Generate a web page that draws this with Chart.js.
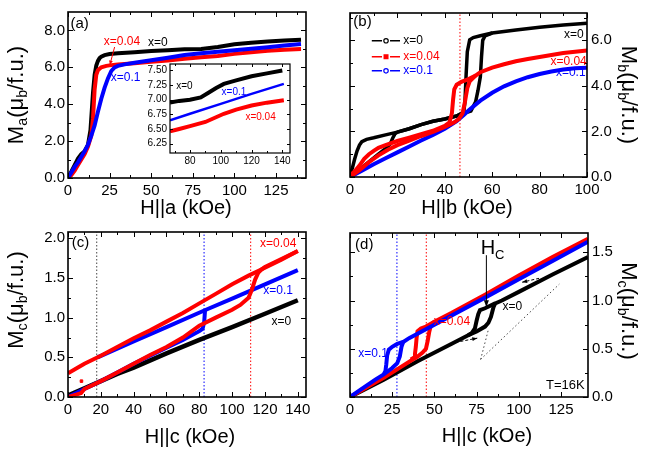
<!DOCTYPE html>
<html><head><meta charset="utf-8">
<script src="https://cdn.jsdelivr.net/npm/chart.js@4.4.0/dist/chart.umd.min.js"></script>
<style>
body{margin:0;background:#fff;width:646px;height:454px;position:relative;overflow:hidden;}
canvas{position:absolute;}
.t{position:absolute;white-space:nowrap;color:#000;font-family:"Liberation Sans",Arial,sans-serif;line-height:1;}
.t sub{font-size:0.65em;vertical-align:-0.3em;}
</style></head>
<body>
<canvas id="ca" width="323" height="227" style="left:0;top:0"></canvas>
<canvas id="cb" width="323" height="227" style="left:323px;top:0"></canvas>
<canvas id="cc" width="323" height="234" style="left:0;top:220px"></canvas>
<canvas id="cd" width="323" height="234" style="left:323px;top:220px"></canvas>
<canvas id="ci" width="170" height="115" style="left:130px;top:55px"></canvas>

<div class="t" style="left:17px;top:95px;font-size:22px;transform:translate(-50%,-50%) rotate(-90deg)">M<sub>a</sub>(μ<sub>b</sub>/f.u.)</div>
<div class="t" style="left:17px;top:300px;font-size:22px;transform:translate(-50%,-50%) rotate(-90deg)">M<sub>c</sub>(μ<sub>b</sub>/f.u.)</div>
<div class="t" style="left:628px;top:95px;font-size:22px;transform:translate(-50%,-50%) rotate(90deg)">M<sub>b</sub>(μ<sub>b</sub>/f.u.)</div>
<div class="t" style="left:628px;top:311px;font-size:22px;transform:translate(-50%,-50%) rotate(90deg)">M<sub>c</sub>(μ<sub>b</sub>/f.u.)</div>
<div class="t" style="left:186px;top:207px;font-size:20px;transform:translate(-50%,-50%)">H||a (kOe)</div>
<div class="t" style="left:467px;top:207px;font-size:20px;transform:translate(-50%,-50%)">H||b (kOe)</div>
<div class="t" style="left:190px;top:436px;font-size:20px;transform:translate(-50%,-50%)">H||c (kOe)</div>
<div class="t" style="left:487px;top:435px;font-size:20px;transform:translate(-50%,-50%)">H||c (kOe)</div>

<script>
// ================= DATA =================
// Panel (a): M_a vs H||a
const aH_x0   = [0,2,4,6,8,10,12,13.5,15,16,17,18,19,20,22,25,30,40,50,60,70,80,90,100,110,120,130,140];
const aM_x0   = [0,0.35,0.7,1.05,1.3,1.45,1.8,2.6,4.6,5.6,6.1,6.35,6.5,6.58,6.66,6.72,6.76,6.82,6.88,6.93,6.98,7.0,7.1,7.25,7.33,7.4,7.45,7.5];
const aH_x004 = [0,2,4,6,8,10,12,14,15,16,17,18,20,23,26,30,40,50,60,70,80,90,100,110,120,130,140];
const aM_x004 = [0,0.15,0.4,0.7,1.0,1.3,1.7,2.3,3.2,4.8,5.6,5.85,6.0,6.08,6.12,6.16,6.22,6.3,6.37,6.47,6.55,6.62,6.73,6.82,6.9,6.95,6.99];
const aH_x01  = [0,2,4,6,8,10,12,14,16,18,20,22,24,26,28,30,34,40,50,60,70,80,90,100,110,120,130,140];
const aM_x01  = [0,0.3,0.6,0.85,1.15,1.45,1.8,2.3,2.85,3.6,4.3,4.9,5.4,5.8,6.0,6.08,6.16,6.25,6.38,6.52,6.67,6.76,6.85,6.93,7.01,7.09,7.18,7.27];
// Inset of (a)
const iH_x0   = [67,73,80,87,92,97,102,110,120,130,140];
const iM_x0   = [6.95,6.98,7.0,7.04,7.12,7.2,7.27,7.33,7.4,7.45,7.5];
const iH_x01  = [67,80,100,120,141];
const iM_x01  = [6.65,6.76,6.93,7.1,7.27];
const iH_x004 = [67,73,80,90,102,110,120,130,141];
const iM_x004 = [6.46,6.5,6.55,6.62,6.76,6.83,6.9,6.95,6.99];

// Panel (b): M_b vs H||b (up / down sweeps)
const bH_x0_up   = [0,3,6,9,12,15,17,18,19,20,25,30,35,40,45,48,51,53,54,55,55.5,56,57,60,70,80,90,100];
const bM_x0_up   = [0,0.25,0.5,0.75,1.0,1.25,1.45,1.7,1.9,1.97,2.12,2.3,2.45,2.55,2.68,2.8,2.9,3.3,3.8,4.4,5.3,6.0,6.2,6.32,6.45,6.57,6.67,6.75];
const bH_x0_dn   = [0,1,2,3,4,5,7,10,15,20,25,30,35,40,45,48,48.5,49,49.5,50.5,52,55,60];
const bM_x0_dn   = [0.1,0.4,0.8,1.15,1.4,1.55,1.65,1.72,1.85,1.97,2.12,2.3,2.45,2.55,2.68,2.85,3.3,4.5,5.5,6.02,6.12,6.2,6.32];
const bH_x004_up = [0,4,8,12,16,20,25,30,35,40,44,46,47.5,48.5,49.5,50.5,53,55,60,65,70,75,80,85,90,95,100];
const bM_x004_up = [0,0.3,0.65,0.95,1.2,1.4,1.6,1.8,1.98,2.2,2.4,2.55,2.8,3.3,3.9,4.2,4.45,4.6,4.8,4.95,5.08,5.18,5.27,5.36,5.44,5.5,5.55];
const bH_x004_dn = [0,2,4,6,8,10,12,15,20,25,30,35,40,42,43,43.5,44,45,47,50,53];
const bM_x004_dn = [0.05,0.25,0.5,0.8,1.0,1.15,1.28,1.4,1.58,1.73,1.88,2.03,2.25,2.4,2.8,3.4,3.85,4.05,4.18,4.3,4.45];
const bH_x01     = [0,5,10,15,20,25,30,35,40,45,48,50,55,60,65,70,75,80,85,90,95,100];
const bM_x01     = [0,0.28,0.56,0.82,1.08,1.34,1.6,1.85,2.12,2.45,2.72,2.92,3.35,3.7,3.98,4.2,4.38,4.52,4.63,4.72,4.77,4.8];
const bHc        = [46.4];

// Panel (c): M_c vs H||c
const cH_x0      = [0,10,20,30,40,60,80,100,120,140];
const cM_x0      = [0.02,0.11,0.2,0.29,0.37,0.55,0.72,0.88,1.05,1.22];
const cH_x01_up  = [0,10,20,30,40,50,60,70,80,82,83,83.5];
const cM_x01_up  = [0,0.1,0.2,0.31,0.42,0.52,0.62,0.72,0.83,0.86,0.95,1.1];
const cH_x01_dn  = [18,40,60,83,100,120,140];
const cM_x01_dn  = [0.5,0.7,0.88,1.09,1.24,1.42,1.6];
const cH_x004_dn = [0,5,10,20,30,40,50,60,70,80,90,100,110,120,130,140];
const cM_x004_dn = [0.3,0.36,0.42,0.52,0.63,0.74,0.84,0.95,1.06,1.18,1.3,1.42,1.53,1.63,1.73,1.84];
const cH_x004_up = [0,5,8,10,20,30,40,50,60,70,80,90,100,105,110,112,114,116,118,120,130,140];
const cM_x004_up = [0,0.03,0.05,0.1,0.2,0.31,0.42,0.53,0.63,0.75,0.9,1.0,1.1,1.16,1.25,1.35,1.48,1.57,1.61,1.64,1.74,1.84];
const cH_x004_pts = [8.2,8.2];
const cM_x004_pts = [0.2,-0.02];
const cHc        = [17.5, 82.9, 111.3];   // x=0, x=0.1, x=0.04

// Panel (d): M_c vs H||c at T=16K
const dH_x0_up   = [0,20,40,60,70,75,80,82,83.5,85,86,90,100,120,141];
const dM_x0_up   = [0,0.18,0.37,0.55,0.64,0.68,0.73,0.77,0.83,0.93,0.97,1.0,1.09,1.27,1.45];
const dH_x0_dn   = [70,72,74,75,76,77,80,86];
const dM_x0_dn   = [0.64,0.66,0.71,0.79,0.86,0.9,0.92,0.97];
const dH_x004_up = [0,10,20,30,40,43,45,46,47,48,50,60,80,100,120,141];
const dM_x004_up = [0,0.1,0.2,0.31,0.42,0.46,0.5,0.58,0.68,0.75,0.78,0.87,1.06,1.26,1.45,1.64];
const dH_x004_dn = [36,38,38.5,39,39.5,40,42,45,50];
const dM_x004_dn = [0.39,0.41,0.45,0.52,0.62,0.68,0.71,0.73,0.78];
const dH_x01_up  = [0,5,10,15,20,25,28,29.5,30.5,31.5,35,50,80,100,120,141];
const dM_x01_up  = [0,0.06,0.12,0.18,0.235,0.3,0.35,0.42,0.52,0.57,0.61,0.75,1.03,1.22,1.41,1.61];
const dH_x01_dn  = [20,21,21.5,22,23,25,28,32];
const dM_x01_dn  = [0.235,0.27,0.34,0.43,0.49,0.52,0.55,0.575];
const dHc        = [27.8, 45.2];          // x=0.1, x=0.04
const dGuideA_H  = [77.4, 124];
const dGuideA_M  = [0.39, 1.17];
const dGuideB_H  = [77.4, 82];
const dGuideB_M  = [0.39, 0.7];

// Tick values
const aXticks = [0,25,50,75,100,125], aYticks = [0,2,4,6,8];
const iXticks = [80,100,120,140],     iYticks = [6.25,6.5,6.75,7.0,7.25,7.5];
const bXticks = [0,20,40,60,80,100],  bYticks = [0,2,4,6];
const cXticks = [0,20,40,60,80,100,120,140], cYticks = [0,0.5,1.0,1.5,2.0];
const dXticks = [0,25,50,75,100,125], dYticks = [0,0.5,1.0,1.5];

// ================= DRAWING =================
const FONT = '"Liberation Sans", Arial, sans-serif';
const BLK='#000000', RED='#ff0000', BLU='#0000ff', GRY='#444444';

function pts(h,m){ return h.map((v,i)=>({x:v,y:m[i]})); }
function line(h,m,color,w){ return {data:pts(h,m),borderColor:color,backgroundColor:color,borderWidth:w,pointRadius:0,showLine:true,fill:false,tension:0}; }
function dots(h,m,color,r){ return {data:pts(h,m),borderColor:color,backgroundColor:color,pointRadius:r,pointStyle:'rect',showLine:false}; }
function vline(xv,ymax,color){ return {data:[{x:xv,y:0},{x:xv,y:ymax}],borderColor:color,borderWidth:1,borderDash:[1.5,2],pointRadius:0,showLine:true,fill:false}; }
function dotted(h,m,color){ return {data:pts(h,m),borderColor:color,borderWidth:1,borderDash:[1.5,2.5],pointRadius:0,showLine:true,fill:false}; }
function mids(a){ const r=[]; for(let i=0;i<a.length-1;i++) r.push((a[i]+a[i+1])/2); return r; }

function xAxis(min,max,ticks,h,size,fmt,pad){
  return {type:'linear',min,max,position:'bottom',
    grid:{display:false,drawTicks:false},border:{display:false},
    afterBuildTicks:s=>{s.ticks=ticks.map(v=>({value:v}));},
    afterFit:s=>{s.height=h;},
    ticks:{padding:pad,color:'#000',autoSkip:false,maxRotation:0,font:{family:FONT,size},callback:fmt}};
}
function yAxis(min,max,ticks,w,size,fmt,pos,pad){
  return {type:'linear',min,max,position:pos,
    grid:{display:false,drawTicks:false},border:{display:false},
    afterBuildTicks:s=>{s.ticks=ticks.map(v=>({value:v}));},
    afterFit:s=>{s.width=w;},
    ticks:{padding:pad,color:'#000',autoSkip:false,font:{family:FONT,size},callback:fmt}};
}
function frame(cfg){
  return {id:'frame',
    beforeDatasetsDraw(chart){ if(cfg.white){const a=chart.chartArea,c=chart.ctx;c.save();c.fillStyle='#fff';c.fillRect(a.left,a.top,a.right-a.left,a.bottom-a.top);c.restore();} },
    afterDatasetsDraw(chart){
      const c=chart.ctx,a=chart.chartArea,x=chart.scales.x,y=chart.scales.y;
      c.save(); c.strokeStyle='#000'; c.lineWidth=1; c.beginPath();
      const tk=(vals,len,isX)=>vals.forEach(v=>{
        if(isX){const p=Math.round(x.getPixelForValue(v))+0.5; c.moveTo(p,a.bottom);c.lineTo(p,a.bottom-len);c.moveTo(p,a.top);c.lineTo(p,a.top+len);}
        else {const p=Math.round(y.getPixelForValue(v))+0.5; c.moveTo(a.left,p);c.lineTo(a.left+len,p);c.moveTo(a.right,p);c.lineTo(a.right-len,p);}
      });
      tk(cfg.xMaj,cfg.maj,true); tk(cfg.xMin,cfg.min,true); tk(cfg.yMaj,cfg.maj,false); tk(cfg.yMin,cfg.min,false);
      c.stroke();
      c.lineWidth=cfg.lw; c.strokeRect(a.left,a.top,a.right-a.left,a.bottom-a.top);
      c.restore();
    }};
}
function txt(ch,s,hx,my,color,size,align){
  const c=ch.ctx; c.save(); c.font=size+'px '+FONT; c.fillStyle=color; c.textAlign=align||'left'; c.textBaseline='middle';
  c.fillText(s,ch.scales.x.getPixelForValue(hx),ch.scales.y.getPixelForValue(my)); c.restore();
}
function P(ch,hx,my){ return [ch.scales.x.getPixelForValue(hx),ch.scales.y.getPixelForValue(my)]; }
function arrowHead(c,x1,y1,x2,y2,len,wid){
  const ang=Math.atan2(y2-y1,x2-x1);
  c.beginPath(); c.moveTo(x2,y2);
  c.lineTo(x2-len*Math.cos(ang)+wid*Math.sin(ang), y2-len*Math.sin(ang)-wid*Math.cos(ang));
  c.lineTo(x2-len*Math.cos(ang)-wid*Math.sin(ang), y2-len*Math.sin(ang)+wid*Math.cos(ang));
  c.closePath(); c.fill();
}
function notes(fn){ return {id:'notes',afterDraw:fn}; }
function mk(id,datasets,xs,ys,pad,plugins){
  return new Chart(document.getElementById(id),{type:'scatter',data:{datasets},
    options:{responsive:false,animation:false,events:[],
      layout:{padding:pad,autoPadding:false},
      plugins:{legend:{display:false},tooltip:{enabled:false}},
      scales:{x:xs,y:ys}},
    plugins});
}
const f1=v=>Number(v).toFixed(1), f0=v=>String(v), f2=v=>Number(v).toFixed(2);

// ---- Panel (a)
mk('ca',[
  line(aH_x01,aM_x01,BLU,4), line(aH_x004,aM_x004,RED,4), line(aH_x0,aM_x0,BLK,4)
], xAxis(0,143,aXticks,49,15,f0,4), yAxis(0,9,aYticks,68,15,f1,'left',3),
 {left:0,top:4,right:17,bottom:0},
 [frame({xMaj:aXticks,xMin:mids(aXticks).concat([137.5]),yMaj:aYticks,yMin:[1,3,5,7],maj:5,min:3,lw:1.6}),
  notes(ch=>{
    txt(ch,'(a)',1.5,8.35,BLK,15);
    txt(ch,'x=0.04',21.5,7.4,RED,12);
    txt(ch,'x=0',48,7.31,BLK,12);
    txt(ch,'x=0.1',25.7,5.44,BLU,12);
    const c=ch.ctx; const [x1,y1]=P(ch,28,7.1), [x2,y2]=P(ch,25.2,6.15);
    c.save(); c.strokeStyle=RED; c.fillStyle=RED; c.lineWidth=1; c.beginPath(); c.moveTo(x1,y1); c.lineTo(x2,y2); c.stroke(); arrowHead(c,x1,y1,x2,y2,4,2); c.restore();
  })]);

// ---- Inset
mk('ci',[
  line(iH_x0,iM_x0,BLK,4), line(iH_x01,iM_x01,BLU,2.5), line(iH_x004,iM_x004,RED,4)
], xAxis(67,145,iXticks,17,10,f0,2), yAxis(6.09,7.61,iYticks,40,10,f2,'left',3),
 {left:0,top:8,right:10,bottom:0},
 [frame({white:true,xMaj:iXticks,xMin:[70,90,110,130],yMaj:iYticks,yMin:[],maj:3,min:2,lw:1.2}),
  notes(ch=>{
    txt(ch,'x=0',71,7.23,BLK,10);
    txt(ch,'x=0.1',100.5,7.12,BLU,10);
    txt(ch,'x=0.04',116,6.7,RED,10);
  })]);

// ---- Panel (b)
mk('cb',[
  line(bH_x004_up,bM_x004_up,RED,4), line(bH_x004_dn,bM_x004_dn,RED,4),
  line(bH_x01,bM_x01,BLU,4),
  line(bH_x0_up,bM_x0_up,BLK,3.5), line(bH_x0_dn,bM_x0_dn,BLK,3.5),
  vline(bHc[0],7.2,RED)
], xAxis(0,100,bXticks,50,15,f0,4), yAxis(0,7.2,bYticks,59,15,f1,'right',4),
 {left:27,top:4,right:0,bottom:0},
 [frame({xMaj:bXticks,xMin:mids(bXticks),yMaj:bYticks,yMin:[1,3,5,7],maj:5,min:3,lw:1.6}),
  notes(ch=>{
    txt(ch,'(b)',1.4,6.81,BLK,15);
    txt(ch,'x=0',98.6,6.25,BLK,12,'right');
    txt(ch,'x=0.04',99.9,5.07,RED,12,'right');
    txt(ch,'x=0.1',99.4,4.59,BLU,12,'right');
    const c=ch.ctx; const rows=[[5.98,BLK,'x=0','c'],[5.28,RED,'x=0.04','s'],[4.66,BLU,'x=0.1','c']];
    rows.forEach(r=>{
      const [xa,y]=P(ch,9.2,r[0]), [xb]=P(ch,21.1,r[0]), [xm]=P(ch,15.2,r[0]);
      c.save(); c.strokeStyle=r[1]; c.fillStyle=r[1]; c.lineWidth=1.5;
      c.beginPath(); c.moveTo(xa,y); c.lineTo(xm-4,y); c.moveTo(xm+4,y); c.lineTo(xb,y); c.stroke();
      if(r[3]==='s'){ c.fillRect(xm-2.5,y-2.5,5,5);} else { c.beginPath(); c.arc(xm,y,2.2,0,Math.PI*2); c.lineWidth=1.2; c.stroke(); }
      c.restore();
      txt(ch,r[2],22.5,r[0],r[1],12);
    });
  })]);

// ---- Panel (c)
mk('cc',[
  line(cH_x004_dn,cM_x004_dn,RED,4), line(cH_x004_up,cM_x004_up,RED,4), dots(cH_x004_pts,cM_x004_pts,RED,1.8),
  line(cH_x01_dn,cM_x01_dn,BLU,4), line(cH_x01_up,cM_x01_up,BLU,4),
  line(cH_x0,cM_x0,BLK,4.5),
  vline(cHc[0],2.08,GRY), vline(cHc[1],2.08,BLU), vline(cHc[2],2.08,RED)
], xAxis(0,145,cXticks,57,15,f0,4), yAxis(0,2.08,cYticks,68,15,f1,'left',3),
 {left:0,top:7,right:17,bottom:0},
 [frame({xMaj:cXticks,xMin:mids(cXticks),yMaj:cYticks,yMin:mids(cYticks),maj:5,min:3,lw:1.6}),
  notes(ch=>{
    txt(ch,'(c)',2.3,1.945,BLK,15);
    txt(ch,'x=0.04',117,1.93,RED,12);
    txt(ch,'x=0.1',119,1.34,BLU,12);
    txt(ch,'x=0',124,0.955,BLK,12);
  })]);

// ---- Panel (d)
mk('cd',[
  line(dH_x01_up,dM_x01_up,BLU,4), line(dH_x01_dn,dM_x01_dn,BLU,4),
  line(dH_x004_up,dM_x004_up,RED,4), line(dH_x004_dn,dM_x004_dn,RED,4),
  line(dH_x0_up,dM_x0_up,BLK,4), line(dH_x0_dn,dM_x0_dn,BLK,4),
  vline(dHc[0],1.7,BLU), vline(dHc[1],1.7,RED),
  dotted(dGuideA_H,dGuideA_M,GRY), dotted(dGuideB_H,dGuideB_M,GRY)
], xAxis(0,141,dXticks,57,15,f0,4), yAxis(0,1.7,dYticks,58,15,f1,'right',4),
 {left:27,top:4,right:0,bottom:0},
 [frame({xMaj:dXticks,xMin:mids(dXticks),yMaj:dYticks,yMin:mids(dYticks),maj:5,min:3,lw:1.6}),
  notes(ch=>{
    const c=ch.ctx;
    txt(ch,'(d)',3,1.58,BLK,15);
    txt(ch,'x=0',90.3,0.94,BLK,12);
    txt(ch,'x=0.04',49.6,0.78,RED,12);
    txt(ch,'x=0.1',4.9,0.45,BLU,12);
    txt(ch,'T=16K',139,0.125,BLK,13,'right');
    // H_C label
    const [hx,hy]=P(ch,77.4,1.55);
    c.save(); c.fillStyle=BLK; c.textBaseline='alphabetic'; c.font='20px '+FONT; c.fillText('H',hx,hy+7);
    const w=c.measureText('H').width; c.font='13px '+FONT; c.fillText('C',hx+w,hy+12); c.restore();
    // H_C arrow
    const [ax1,ay1]=P(ch,80.8,1.47), [ax2,ay2]=P(ch,80.8,0.93);
    c.save(); c.strokeStyle=BLK; c.fillStyle=BLK; c.lineWidth=1; c.beginPath(); c.moveTo(ax1,ay1); c.lineTo(ax2,ay2-4); c.stroke(); arrowHead(c,ax1,ay1,ax2,ay2,7,2.5); c.restore();
    // sweep-direction arrows
    const sweep=(h1,m1,h2,m2)=>{ const [x1,y1]=P(ch,h1,m1),[x2,y2]=P(ch,h2,m2);
      c.save(); c.strokeStyle=BLK; c.fillStyle=BLK; c.lineWidth=1; c.setLineDash([3,2]); c.beginPath(); c.moveTo(x1,y1); c.lineTo(x2,y2); c.stroke(); c.setLineDash([]); arrowHead(c,x1,y1,x2,y2,5,2); c.restore(); };
    sweep(112,1.23,102,1.19);
    sweep(62.5,0.566,75.4,0.61);
  })]);
</script>
</body></html>
